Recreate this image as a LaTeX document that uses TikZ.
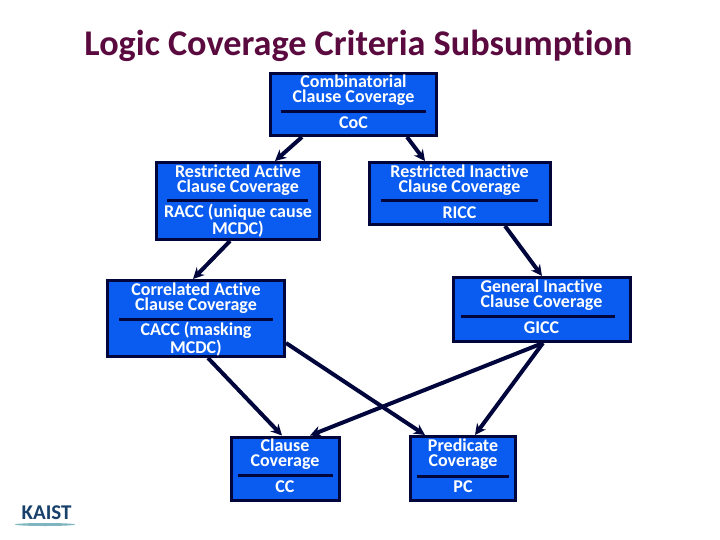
\documentclass[tikz,border=0pt]{standalone}
\usepackage{fontspec}
\setmainfont{Carlito}[Ligatures=NoCommon]
\usetikzlibrary{arrows.meta,shapes.geometric}
\definecolor{boxblue}{HTML}{0A5CF0}
\definecolor{boxline}{HTML}{00063C}
\definecolor{titlered}{HTML}{5A0A3E}
\definecolor{logoblue}{HTML}{17406A}
\definecolor{logoteal}{HTML}{7FB5C0}
\tikzset{
  covbox/.style={rectangle,draw=boxline,fill=boxblue,line width=3pt,inner sep=0pt},
  covtext/.style={text=white,inner sep=0pt,align=center,font=\bfseries\fontsize{18}{15.5}\selectfont},
  covrule/.style={rectangle,fill=boxline,inner sep=0pt,minimum height=3pt},
  flow/.style={-{Stealth[length=11pt,width=11pt]},draw=boxline,line width=4pt}
}
\begin{document}
\begin{tikzpicture}[x=1pt,y=-1pt]
    \useasboundingbox (0,0) rectangle (720,540);
    \node[font=\bfseries\fontsize{36.2}{36}\selectfont,text=titlered,inner sep=0pt] (title) at (358.5,46) {Logic Coverage Criteria Subsumption};

    \node[covbox,minimum width=166pt,minimum height=62pt] (CoC) at (353.5,104.5) {};
    \node[covtext] (CoChead) at (353.5,90) {Combinatorial\\Clause Coverage};
    \node[covrule,minimum width=145pt] (CoCrule) at (353.5,112) {};
    \node[covtext] (CoCtail) at (353.5,123) {CoC};

    \node[covbox,minimum width=163pt,minimum height=77pt] (RACC) at (238,201) {};
    \node[covtext] (RACChead) at (238,180) {Restricted Active\\Clause Coverage};
    \node[covrule,minimum width=141pt] (RACCrule) at (237.5,201) {};
    \node[covtext] (RACCtail) at (238,221) {RACC (unique cause\\MCDC)};

    \node[covbox,minimum width=181pt,minimum height=62pt] (RICC) at (460,193.5) {};
    \node[covtext] (RICChead) at (459.5,180) {Restricted Inactive\\Clause Coverage};
    \node[covrule,minimum width=157pt] (RICCrule) at (459.5,201) {};
    \node[covtext] (RICCtail) at (459.5,213) {RICC};

    \node[covbox,minimum width=177pt,minimum height=76pt] (CACC) at (196,318.5) {};
    \node[covtext] (CACChead) at (196,298) {Correlated Active\\Clause Coverage};
    \node[covrule,minimum width=154pt] (CACCrule) at (196,319) {};
    \node[covtext] (CACCtail) at (196,339) {CACC (masking\\MCDC)};

    \node[covbox,minimum width=177pt,minimum height=64pt] (GICC) at (542,309.5) {};
    \node[covtext] (GICChead) at (541.5,295) {General Inactive\\Clause Coverage};
    \node[covrule,minimum width=154pt] (GICCrule) at (538,316) {};
    \node[covtext] (GICCtail) at (541.5,328) {GICC};

    \node[covbox,minimum width=108pt,minimum height=63pt] (CC) at (285.5,468.5) {};
    \node[covtext] (CChead) at (285,454) {Clause\\Coverage};
    \node[covrule,minimum width=95pt] (CCrule) at (285.5,475) {};
    \node[covtext] (CCtail) at (285,487) {CC};

    \node[covbox,minimum width=105pt,minimum height=64pt] (PC) at (463,468.5) {};
    \node[covtext] (PChead) at (463,454) {Predicate\\Coverage};
    \node[covrule,minimum width=92pt] (PCrule) at (463,476) {};
    \node[covtext] (PCtail) at (463,487) {PC};

    \path ([xshift=33pt]CoC.south west) edge[flow] ([xshift=120pt]RACC.north west);
    \path ([xshift=138pt]CoC.south west) edge[flow] ([xshift=57pt]RICC.north west);
    \path ([xshift=75pt]RACC.south west) edge[flow] ([xshift=87pt]CACC.north west);
    \path ([xshift=137pt]RICC.south west) edge[flow] (GICC.north);
    \path ([xshift=102pt]CACC.south west) edge[flow] ([xshift=52pt]CC.north west);
    \path ([yshift=15pt]CACC.south east) edge[flow] ([xshift=16pt]PC.north west);
    \path ([xshift=91pt]GICC.south west) edge[flow] ([xshift=80pt]CC.north west);
    \path ([xshift=91pt]GICC.south west) edge[flow] ([xshift=66pt]PC.north west);

    % logo
    \node[ellipse,fill=logoteal,minimum width=60pt,minimum height=3pt,inner sep=0pt] (swoosh) at (45,524.5) {};
    \node[font=\bfseries\fontsize{21}{21}\selectfont,text=logoblue,inner sep=0pt] (KAIST) at (46.5,513) {KAIST};
\end{tikzpicture}
\end{document}
